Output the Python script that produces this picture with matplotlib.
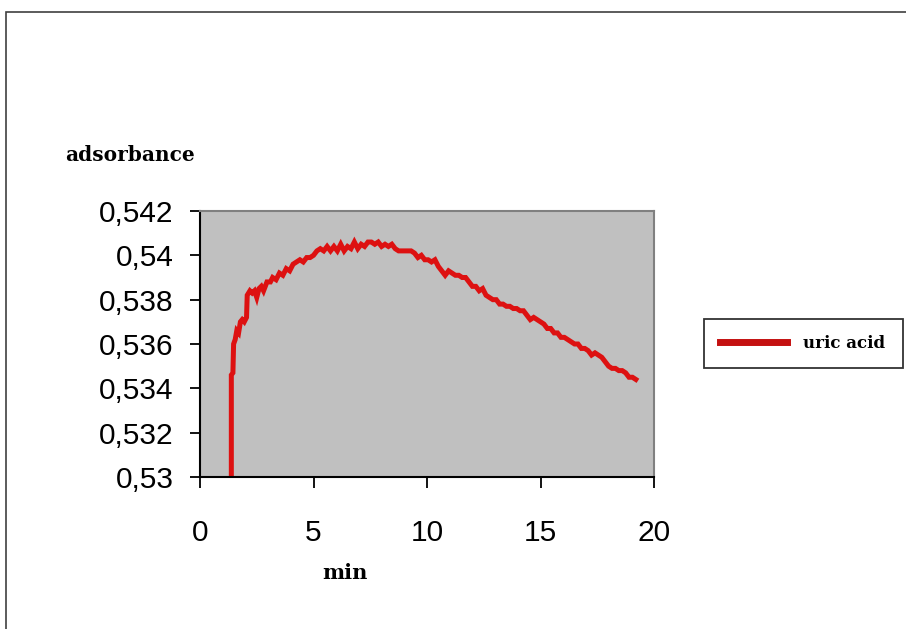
import matplotlib.pyplot as plt
from matplotlib.patches import Rectangle

# ── data ────────────────────────────────────────────────────
minutes = [1.38, 1.38, 1.45, 1.48, 1.55, 1.62, 1.70, 1.78, 1.86, 1.95, 2.05, 2.08,
           2.2, 2.3, 2.4, 2.5, 2.6, 2.7, 2.8, 2.95, 3.1, 3.2, 3.35, 3.5, 3.65, 3.8,
           3.95, 4.1, 4.25, 4.4, 4.55, 4.7, 4.85, 5.0, 5.15, 5.3, 5.45, 5.6, 5.75,
           5.9, 6.05, 6.2, 6.35, 6.5, 6.65, 6.8, 6.95, 7.1, 7.25, 7.4, 7.55, 7.7,
           7.85, 8.0, 8.15, 8.3, 8.45, 8.6, 8.75, 8.9, 9.1, 9.3, 9.45, 9.6, 9.75,
           9.9, 10.05, 10.2, 10.35, 10.5, 10.65, 10.8, 10.95, 11.1, 11.25, 11.4,
           11.55, 11.7, 11.85, 12.0, 12.15, 12.3, 12.45, 12.6, 12.75, 12.9, 13.05,
           13.2, 13.35, 13.5, 13.65, 13.8, 13.95, 14.1, 14.25, 14.4, 14.55, 14.7,
           14.85, 15.0, 15.15, 15.3, 15.45, 15.6, 15.75, 15.9, 16.05, 16.2, 16.35,
           16.5, 16.65, 16.8, 16.95, 17.1, 17.25, 17.4, 17.55, 17.7, 17.85, 18.0,
           18.15, 18.3, 18.45, 18.6, 18.75, 18.9, 19.05, 19.2]
absorbance = [0.5300, 0.5346, 0.5347, 0.5360, 0.5362, 0.5366, 0.5365, 0.5370, 0.5371,
              0.5370, 0.5372, 0.5382, 0.5384, 0.5383, 0.5384, 0.5381, 0.5385, 0.5386,
              0.5384, 0.5388, 0.5388, 0.5390, 0.5389, 0.5392, 0.5391, 0.5394, 0.5393,
              0.5396, 0.5397, 0.5398, 0.5397, 0.5399, 0.5399, 0.5400, 0.5402, 0.5403,
              0.5402, 0.5404, 0.5402, 0.5404, 0.5402, 0.5405, 0.5402, 0.5404, 0.5403,
              0.5406, 0.5403, 0.5405, 0.5404, 0.5406, 0.5406, 0.5405, 0.5406, 0.5404,
              0.5405, 0.5404, 0.5405, 0.5403, 0.5402, 0.5402, 0.5402, 0.5402, 0.5401,
              0.5399, 0.5400, 0.5398, 0.5398, 0.5397, 0.5398, 0.5395, 0.5393, 0.5391,
              0.5393, 0.5392, 0.5391, 0.5391, 0.5390, 0.5390, 0.5388, 0.5386, 0.5386,
              0.5384, 0.5385, 0.5382, 0.5381, 0.5380, 0.5380, 0.5378, 0.5378, 0.5377,
              0.5377, 0.5376, 0.5376, 0.5375, 0.5375, 0.5373, 0.5371, 0.5372, 0.5371,
              0.5370, 0.5369, 0.5367, 0.5367, 0.5365, 0.5365, 0.5363, 0.5363, 0.5362,
              0.5361, 0.5360, 0.5360, 0.5358, 0.5358, 0.5357, 0.5355, 0.5356, 0.5355,
              0.5354, 0.5352, 0.5350, 0.5349, 0.5349, 0.5348, 0.5348, 0.5347, 0.5345,
              0.5345, 0.5344]

x_ticks = [0, 5, 10, 15, 20]
y_ticks = [0.530, 0.532, 0.534, 0.536, 0.538, 0.540, 0.542]
y_tick_labels = ["0,53", "0,532", "0,534", "0,536", "0,538", "0,54", "0,542"]
series_name = "uric acid"

# ── figure ─────────────────────────────────────────────────
W, H = 906, 629
fig = plt.figure(figsize=(W / 100, H / 100), dpi=100)
fig.patch.set_facecolor("white")

# outer frame (left and top edge visible, right/bottom cut off)
fig.patches.append(Rectangle((6 / W, -0.1), 1.2, 1.1 - 12 / H, transform=fig.transFigure,
                             fill=False, edgecolor="#404040", linewidth=1.2))

ax = fig.add_axes([200 / W, 1 - 477 / H, 454 / W, 266 / H])
ax.set_facecolor("#c0c0c0")

ax.plot(minutes, absorbance, color="#dd1111", linewidth=3.6, label=series_name,
        solid_joinstyle="miter")

ax.set_xlim(0, 20)
ax.set_ylim(0.530, 0.542)
ax.set_xticks(x_ticks)
ax.set_yticks(y_ticks)
ax.set_yticklabels(y_tick_labels)

for s in ["top", "right"]:
    ax.spines[s].set_color("#808080")
    ax.spines[s].set_linewidth(1.5)
for s in ["left", "bottom"]:
    ax.spines[s].set_color("black")
    ax.spines[s].set_linewidth(1.5)

ax.tick_params(axis="y", direction="out", length=7, width=1.3, pad=12)
ax.tick_params(axis="x", direction="out", length=8, width=1.3, pad=22)
for lbl in ax.get_xticklabels() + ax.get_yticklabels():
    lbl.set_fontfamily("Liberation Sans")
    lbl.set_fontsize(21.5)

fig.text(130 / W, 1 - 155 / H, "adsorbance", ha="center", va="center",
         family="DejaVu Serif", fontweight="bold", fontsize=14.5)
fig.text(345 / W, 1 - 573 / H, "min", ha="center", va="center",
         family="DejaVu Serif", fontweight="bold", fontsize=15)

leg = ax.legend(loc="center", bbox_to_anchor=(704 / W, 1 - 370 / H, 199 / W, 53 / H),
                bbox_transform=fig.transFigure, mode="expand", borderaxespad=0,
                fancybox=False, frameon=True, edgecolor="black",
                handlelength=4.0, borderpad=0.95, handletextpad=1.0,
                prop={"family": "DejaVu Serif", "weight": "bold", "size": 12})
leg.get_frame().set_linewidth(1.3)
leg.get_lines()[0].set_linewidth(5)
leg.get_lines()[0].set_color("#c41010")

fig.savefig("out.png", dpi=100)
